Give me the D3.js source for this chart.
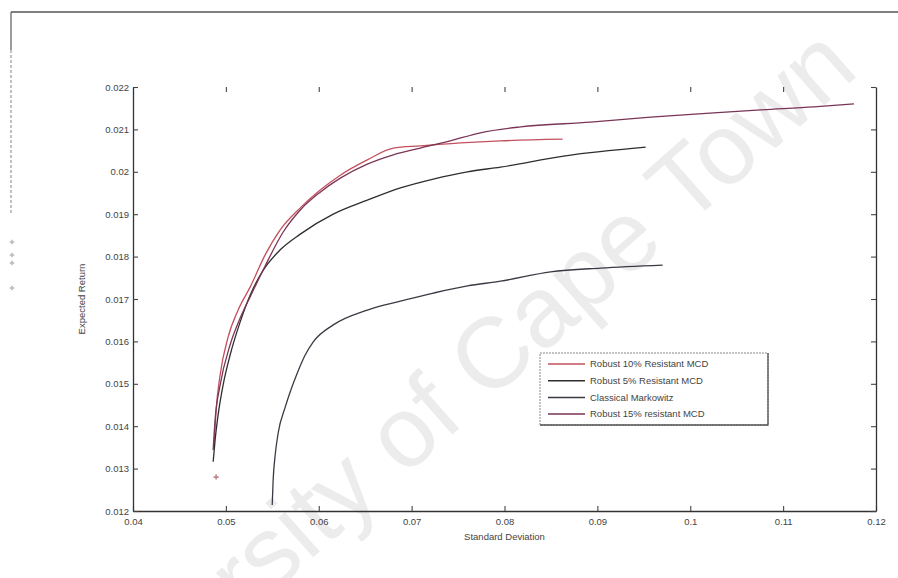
<!DOCTYPE html>
<html>
<head>
<meta charset="utf-8">
<script src="https://cdn.jsdelivr.net/npm/d3@7"></script>
<style>
  body { margin: 0; background: #fff; }
  text { font-family: "Liberation Sans", Arial, sans-serif; }
</style>
</head>
<body>
<div id="chart"></div>
<script>
// tick values
var xTicks = [0.04, 0.05, 0.06, 0.07, 0.08, 0.09, 0.1, 0.11, 0.12];
var yTicks = [0.012, 0.013, 0.014, 0.015, 0.016, 0.017, 0.018, 0.019, 0.02, 0.021, 0.022];

// series: [std dev, expected return]
var robust10 = [
  [0.04873, 0.01356], [0.04895, 0.01438], [0.04938, 0.01521], [0.05024, 0.01610],
  [0.05132, 0.01674], [0.05261, 0.01728], [0.05423, 0.01804], [0.05585, 0.01863],
  [0.05801, 0.01915], [0.06016, 0.01957], [0.06232, 0.01992], [0.06523, 0.02028],
  [0.06803, 0.02056], [0.07094, 0.02061], [0.07526, 0.02068], [0.07957, 0.02073],
  [0.08625, 0.02077]
];
var robust5 = [
  [0.04863, 0.01316], [0.04884, 0.01367], [0.04916, 0.01426], [0.04970, 0.01497],
  [0.05046, 0.01568], [0.05154, 0.01646], [0.05261, 0.01709], [0.05391, 0.01764],
  [0.05585, 0.01816], [0.05801, 0.01853], [0.06156, 0.01900], [0.06523, 0.01933],
  [0.06879, 0.01962], [0.07234, 0.01983], [0.07601, 0.02000], [0.07957, 0.02011],
  [0.08636, 0.02037], [0.09520, 0.02058]
];
var classical = [
  [0.05499, 0.01214], [0.05509, 0.01273], [0.05531, 0.01332], [0.05563, 0.01384],
  [0.05639, 0.01445], [0.05768, 0.01525], [0.05854, 0.01568], [0.05941, 0.01599],
  [0.06156, 0.01639], [0.06523, 0.01674], [0.06879, 0.01695], [0.07234, 0.01714],
  [0.07601, 0.01731], [0.07957, 0.01742], [0.08496, 0.01764], [0.09035, 0.01773],
  [0.09703, 0.01780]
];
var robust15 = [
  [0.04863, 0.01344], [0.04884, 0.01415], [0.04938, 0.01497], [0.05046, 0.01592],
  [0.05154, 0.01655], [0.05261, 0.01705], [0.05423, 0.01778], [0.05617, 0.01858],
  [0.05801, 0.01910], [0.06016, 0.01952], [0.06232, 0.01985], [0.06523, 0.02018],
  [0.06803, 0.02040], [0.07094, 0.02056], [0.07418, 0.02073], [0.07741, 0.02092],
  [0.08173, 0.02106], [0.08927, 0.02117], [0.09574, 0.02129], [0.10253, 0.02139],
  [0.10760, 0.02146], [0.11332, 0.02153], [0.11763, 0.02160]
];
var minPoint = [0.04895, 0.0128];

var seriesNames = ["Robust 10% Resistant MCD", "Robust 5% Resistant MCD", "Classical Markowitz", "Robust 15% resistant MCD"];
var seriesData = [robust10, robust5, classical, robust15];
var seriesColors = ["#c4505e", "#2e2e2e", "#3a3a44", "#7a3556"];

var W = 898, H = 578;
var margin = {top: 87, right: 22, bottom: 67, left: 133},
    width = W - margin.left - margin.right,
    height = H - margin.top - margin.bottom;

var root = d3.select("#chart").append("svg")
  .attr("width", W)
  .attr("height", H);

// watermark
root.append("text")
  .attr("transform", "translate(440,410) rotate(-41.5)")
  .attr("text-anchor", "middle")
  .attr("dominant-baseline", "middle")
  .style("font-size", "100px")
  .style("fill", "#ececec")
  .text("University of Cape Town");

// outer figure frame (scanned, partly faded)
root.append("line").attr("x1", 11).attr("x2", W).attr("y1", 12).attr("y2", 12)
  .attr("stroke", "#555").attr("stroke-width", 1.5);
root.append("line").attr("x1", 11).attr("x2", 11).attr("y1", 12).attr("y2", 50)
  .attr("stroke", "#666").attr("stroke-width", 1.3);
root.append("line").attr("x1", 11).attr("x2", 11).attr("y1", 50).attr("y2", 214)
  .attr("stroke", "#999").attr("stroke-width", 1.2).attr("stroke-dasharray", "3,2");
[242, 255, 263, 288].forEach(function(yy) {
  root.append("path")
    .attr("transform", "translate(12," + yy + ")")
    .attr("d", d3.symbol(d3.symbolCross, 12))
    .attr("fill", "#bbb");
});

var svg = root.append("g")
  .attr("transform", "translate(" + margin.left + "," + margin.top + ")");

var x = d3.scaleLinear().domain([0.04, 0.12]).range([0, width]);
var y = d3.scaleLinear().domain([0.012, 0.022]).range([height, 0]);

var fmt = function(d) { return String(+d.toFixed(3)); };

// bottom axis, ticks inward
var gx = svg.append("g")
  .attr("transform", "translate(0," + height + ")")
  .call(d3.axisBottom(x).tickValues(xTicks).tickFormat(fmt).tickSizeInner(-5).tickSizeOuter(0).tickPadding(7));
// left axis, ticks inward
var gy = svg.append("g")
  .call(d3.axisLeft(y).tickValues(yTicks).tickFormat(fmt).tickSizeInner(-5).tickSizeOuter(0).tickPadding(4));
// right axis
var gr = svg.append("g")
  .attr("transform", "translate(" + width + ",0)")
  .call(d3.axisRight(y).tickValues(yTicks).tickFormat("").tickSizeInner(-5).tickSizeOuter(0));
// top ticks only (box line faded in scan)
var gt = svg.append("g")
  .call(d3.axisTop(x).tickValues(xTicks.slice(1, -1)).tickFormat("").tickSizeInner(-5).tickSizeOuter(0));
gt.select(".domain").remove();

[gx, gy, gr, gt].forEach(function(g) {
  g.select(".domain").attr("stroke", "#333").attr("stroke-width", 1.3);
  g.selectAll(".tick line").attr("stroke", "#444").attr("stroke-width", 1.1);
  g.selectAll(".tick text").style("font-size", "9.5px").style("fill", "#444");
});

// axis labels
svg.append("text")
  .attr("x", width / 2)
  .attr("y", height + 29)
  .attr("text-anchor", "middle")
  .style("font-size", "9.5px")
  .style("fill", "#444")
  .text("Standard Deviation");
svg.append("text")
  .attr("transform", "translate(" + (-48) + "," + (height / 2) + ") rotate(-90)")
  .attr("text-anchor", "middle")
  .style("font-size", "9.5px")
  .style("fill", "#444")
  .text("Expected Return");

// frontiers
var line = d3.line()
  .x(d => x(d[0]))
  .y(d => y(d[1]))
  .curve(d3.curveMonotoneX);

seriesData.forEach(function(data, i) {
  svg.append("path")
    .datum(data)
    .attr("fill", "none")
    .attr("stroke", seriesColors[i])
    .attr("stroke-width", 1.3)
    .attr("d", line);
});

// marker near the bottom of the robust frontiers
svg.append("path")
  .attr("transform", "translate(" + x(minPoint[0]) + "," + y(minPoint[1]) + ")")
  .attr("d", d3.symbol(d3.symbolCross, 14))
  .attr("fill", "#c08890");

// legend
var lg = root.append("g").attr("transform", "translate(540,353)");
lg.append("rect")
  .attr("width", 228).attr("height", 72)
  .attr("fill", "#fff")
  .attr("stroke", "#888").attr("stroke-width", 1)
  .attr("stroke-dasharray", "2,1");
lg.append("path")
  .attr("d", "M228,0V72H0")
  .attr("fill", "none")
  .attr("stroke", "#555").attr("stroke-width", 1.3);
seriesNames.forEach(function(name, i) {
  var yy = 11 + i * 16.7;
  lg.append("line")
    .attr("x1", 8).attr("x2", 45).attr("y1", yy).attr("y2", yy)
    .attr("stroke", seriesColors[i]).attr("stroke-width", 1.5);
  lg.append("text")
    .attr("x", 50).attr("y", yy)
    .attr("dy", "0.35em")
    .style("font-size", "9.5px")
    .style("fill", "#444")
    .text(name);
});
</script>
</body>
</html>
